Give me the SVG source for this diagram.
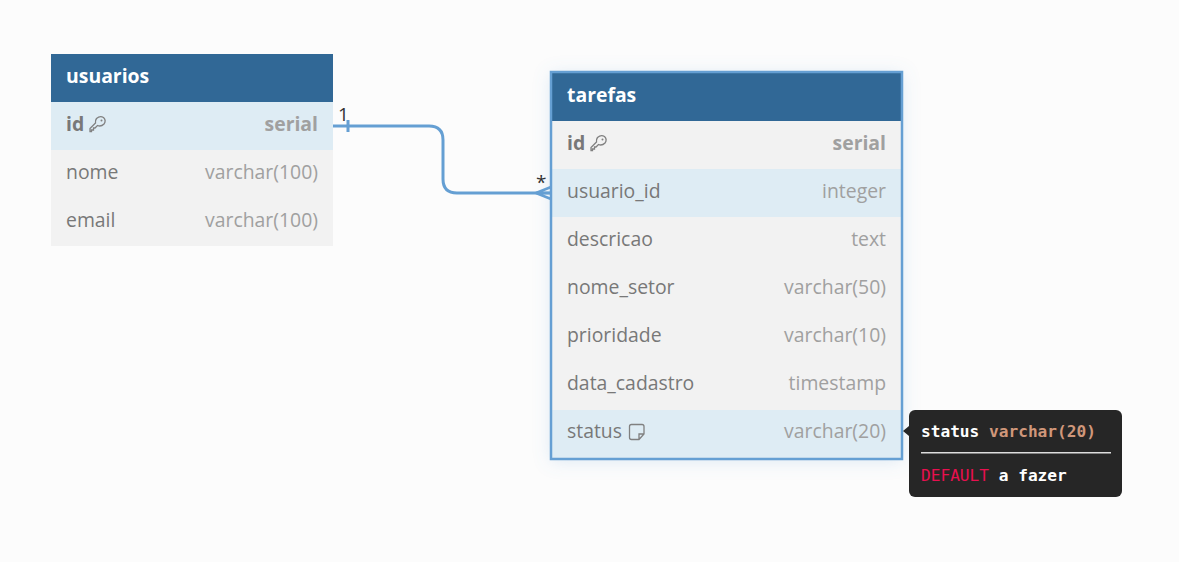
<svg xmlns="http://www.w3.org/2000/svg" width="1179" height="562" viewBox="0 0 1179 562">
<defs>
<style>
text{font-family:"Open Sans","Noto Sans",sans-serif;font-size:19.4px}
.h{fill:#fff;font-weight:700}
.n{fill:#787878}
.t{fill:#a0a0a0;text-anchor:end}
.b{font-weight:700}
.hd{fill:#316896}
.r{fill:#f2f2f2}
.s{fill:#deecf4}
.ic{fill:none;stroke:#808080;stroke-width:1.3}
.m{font-family:"DejaVu Sans Mono","Liberation Mono",monospace;font-size:16.15px;font-weight:700;fill:#fff}
.c{fill:none;stroke:#659fd3;stroke-width:3}
</style>
<filter id="sh" x="-10%" y="-10%" width="120%" height="120%"><feDropShadow dx="0" dy="2" stdDeviation="9" flood-color="#6aa2d4" flood-opacity=".22"/></filter>
<g id="key"><path class="ic" d="M6.500 -5.500Q10 -8.500 13.500 -6.500Q16.500 -3.500 14 0Q11 3 7.500 1.500L5 4H3.500V6H1.500V7.500H0V4.500L5.500 -1Q5 -3.500 6.500 -5.500Z"/><circle cx="11.500" cy="-3.500" r="1" fill="#808080"/></g>
</defs>
<rect width="1179" height="562" fill="#fcfcfc"/>
<g id="usuarios">
<rect x="51" y="102" width="282" height="144" class="r"/>
<rect x="51" y="54" width="282" height="48" class="hd"/>
<rect x="51" y="102" width="282" height="48" class="s"/>
<text x="66" y="83" class="h">usuarios</text>
<text x="66" y="131" class="n b">id</text><use href="#key" x="90" y="124"/>
<text x="318" y="131" class="t b">serial</text>
<text x="66" y="179" class="n">nome</text><text x="318" y="179" class="t">varchar(100)</text>
<text x="66" y="227" class="n">email</text><text x="318" y="227" class="t">varchar(100)</text>
</g>
<g id="tarefas">
<rect x="551" y="72" width="351" height="387" class="r" filter="url(#sh)"/>
<rect x="551" y="72" width="351" height="49" class="hd"/>
<rect x="551" y="169" width="351" height="48" class="s"/>
<rect x="551" y="410" width="351" height="49" class="s"/>
<rect x="551" y="72" width="351" height="387" fill="none" stroke="#659fd3" stroke-width="2.500"/>
<text x="567" y="102" class="h">tarefas</text>
<text x="567" y="150" class="n b">id</text><use href="#key" x="591" y="143"/>
<text x="886" y="150" class="t b">serial</text>
<text x="567" y="198" class="n">usuario_id</text><text x="886" y="198" class="t">integer</text>
<text x="567" y="246" class="n">descricao</text><text x="886" y="246" class="t">text</text>
<text x="567" y="294" class="n">nome_setor</text><text x="886" y="294" class="t">varchar(50)</text>
<text x="567" y="342" class="n">prioridade</text><text x="886" y="342" class="t">varchar(10)</text>
<text x="567" y="390" class="n">data_cadastro</text><text x="886" y="390" class="t">timestamp</text>
<text x="567" y="438" class="n">status</text><text x="886" y="438" class="t">varchar(20)</text>
<path class="ic" d="M631.500 424.500H642Q644 424.500 644 426.500V434L639 439.500H631.500Q629.500 439.500 629.500 437.500V426.500Q629.500 424.500 631.500 424.500Z M644 434H639V439.500"/>
</g>
<g id="connectors">
<path class="c" d="M333 126H429Q443 126 443 140V179Q443 193 457 193H551"/>
<path d="M348 120V132" stroke="#659fd3" stroke-width="3" fill="none"/>
<path d="M536 193L551 187M536 193L551 193M536 193L551 199" stroke="#659fd3" stroke-width="2.500" fill="none"/>
<text x="338" y="121" fill="#333" style="font-size:19px">1</text>
<text x="536" y="189" fill="#333" style="font-size:19px">*</text>
</g>
<g id="tooltip">
<rect x="909" y="410" width="213" height="87" rx="6" fill="#262626"/>
<path d="M909 426L903 431L909 436Z" fill="#262626"/>
<text x="921" y="437" class="m">status <tspan fill="#d0977a">varchar(20)</tspan></text>
<rect x="921" y="452" width="190" height="1.500" fill="#ddd"/>
<text x="921" y="481" class="m"><tspan fill="#e8104f" font-weight="400">DEFAULT</tspan> a fazer</text>
</g>
</svg>
